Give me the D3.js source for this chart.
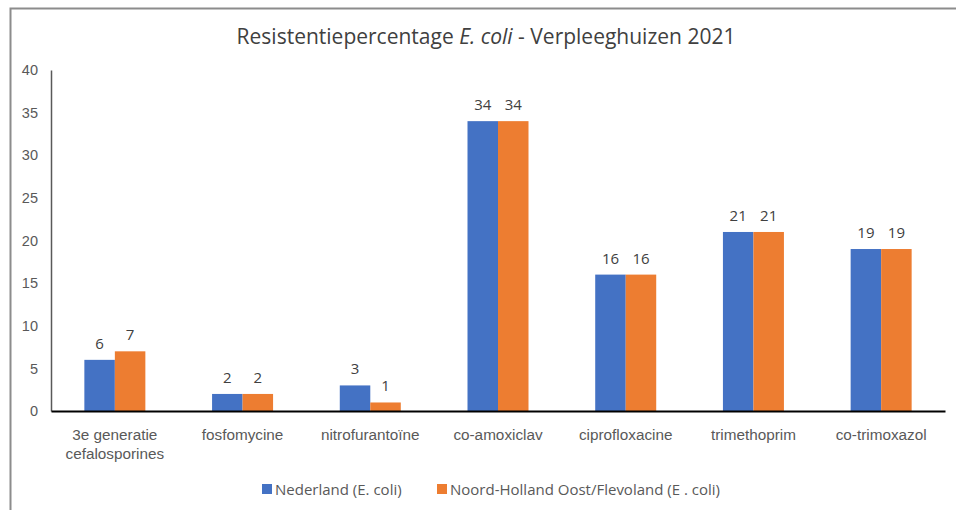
<!DOCTYPE html>
<html>
<head>
<meta charset="utf-8">
<script src="https://cdn.jsdelivr.net/npm/d3@7"></script>
<style>
  body { margin: 0; background: #fff; }
  svg { display: block; font-family: "Open Sans", "Noto Sans", sans-serif; }
  .tick text { fill: #595959; }
</style>
</head>
<body>
<div id="chart"></div>
<script>
"use strict";

let categories = ["3e generatie\ncefalosporines", "fosfomycine", "nitrofurantoïne", "co-amoxiclav", "ciprofloxacine", "trimethoprim", "co-trimoxazol"];
let seriesNames = ["Nederland (E. coli)", "Noord-Holland Oost/Flevoland (E . coli)"];
let nederland = [6, 2, 3, 34, 16, 21, 19];
let noordHolland = [7, 2, 1, 34, 16, 21, 19];
let colors = ["#4472C4", "#ED7D31"];
let yTicks = [0, 5, 10, 15, 20, 25, 30, 35, 40];

let width = 956, height = 510;
let margins = { top: 70, left: 51, right: 11, bottom: 99 };

let svg = d3.select("#chart").append("svg")
  .attr("width", width)
  .attr("height", height);

// chart frame (only top/left visible)
svg.append("path")
  .attr("d", "M10.5," + height + "V8.5H" + width)
  .attr("fill", "none")
  .attr("stroke", "#8c8c8c")
  .attr("stroke-width", 2);

// title
let title = svg.append("text")
  .attr("x", 486)
  .attr("y", 44)
  .attr("text-anchor", "middle")
  .style("font-size", "21px")
  .style("fill", "#404040");
title.append("tspan").text("Resistentiepercentage ");
title.append("tspan").style("font-style", "italic").text("E. coli");
title.append("tspan").text(" - Verpleeghuizen 2021");

let data = categories.map((c, i) => ({ cat: c, values: [nederland[i], noordHolland[i]] }));

let x = d3.scaleBand()
  .domain(categories)
  .range([margins.left, width - margins.right]);

let xInner = d3.scaleBand()
  .domain([0, 1])
  .range([0, 61]);

let y = d3.scaleLinear()
  .domain([0, 40])
  .range([height - margins.bottom, margins.top]);

// y axis
let yAxisG = svg.append("g")
  .attr("transform", "translate(" + margins.left + ",0)")
  .call(d3.axisLeft(y).tickValues(yTicks).tickSize(0).tickPadding(13));
yAxisG.select(".domain").attr("stroke", "#595959").attr("stroke-width", 1.5);
yAxisG.selectAll(".tick text").style("font-size", "14.5px");

// bars
let groups = svg.append("g").selectAll("g")
  .data(data)
  .enter().append("g")
  .attr("transform", d => "translate(" + (x(d.cat) + (x.bandwidth() - 61) / 2) + ",0)");

groups.selectAll("rect")
  .data(d => d.values)
  .enter().append("rect")
  .attr("x", (v, i) => xInner(i))
  .attr("width", xInner.bandwidth())
  .attr("y", v => y(v))
  .attr("height", v => y(0) - y(v))
  .attr("fill", (v, i) => colors[i]);

groups.selectAll(".val")
  .data(d => d.values)
  .enter().append("text")
  .attr("class", "val")
  .attr("x", (v, i) => xInner(i) + xInner.bandwidth() / 2)
  .attr("y", v => y(v) - 11)
  .attr("text-anchor", "middle")
  .style("font-size", "15px")
  .style("fill", "#404040")
  .text(v => v);

// x axis
let xAxisG = svg.append("g")
  .attr("transform", "translate(0," + y(0) + ")")
  .call(d3.axisBottom(x).tickSize(0).tickFormat(""));
xAxisG.select(".domain").attr("stroke", "#000").attr("stroke-width", 2);

xAxisG.selectAll(".tick").each(function(d) {
  let lines = d.split("\n");
  let t = d3.select(this).append("text")
    .attr("text-anchor", "middle")
    .style("font-size", "15.3px")
    .style("fill", "#595959");
  lines.forEach((l, i) => {
    t.append("tspan").attr("x", 0).attr("y", 29 + i * 19).text(l);
  });
});

// legend
let legend = svg.append("g");
let legendX = [262, 437];
seriesNames.forEach((name, i) => {
  let g = legend.append("g").attr("transform", "translate(" + legendX[i] + ",484)");
  g.append("rect").attr("width", 10).attr("height", 10).attr("fill", colors[i]);
  g.append("text")
    .attr("x", 13)
    .attr("y", 11)
    .style("font-size", "15px")
    .style("fill", "#595959")
    .text(name);
});
</script>
</body>
</html>
